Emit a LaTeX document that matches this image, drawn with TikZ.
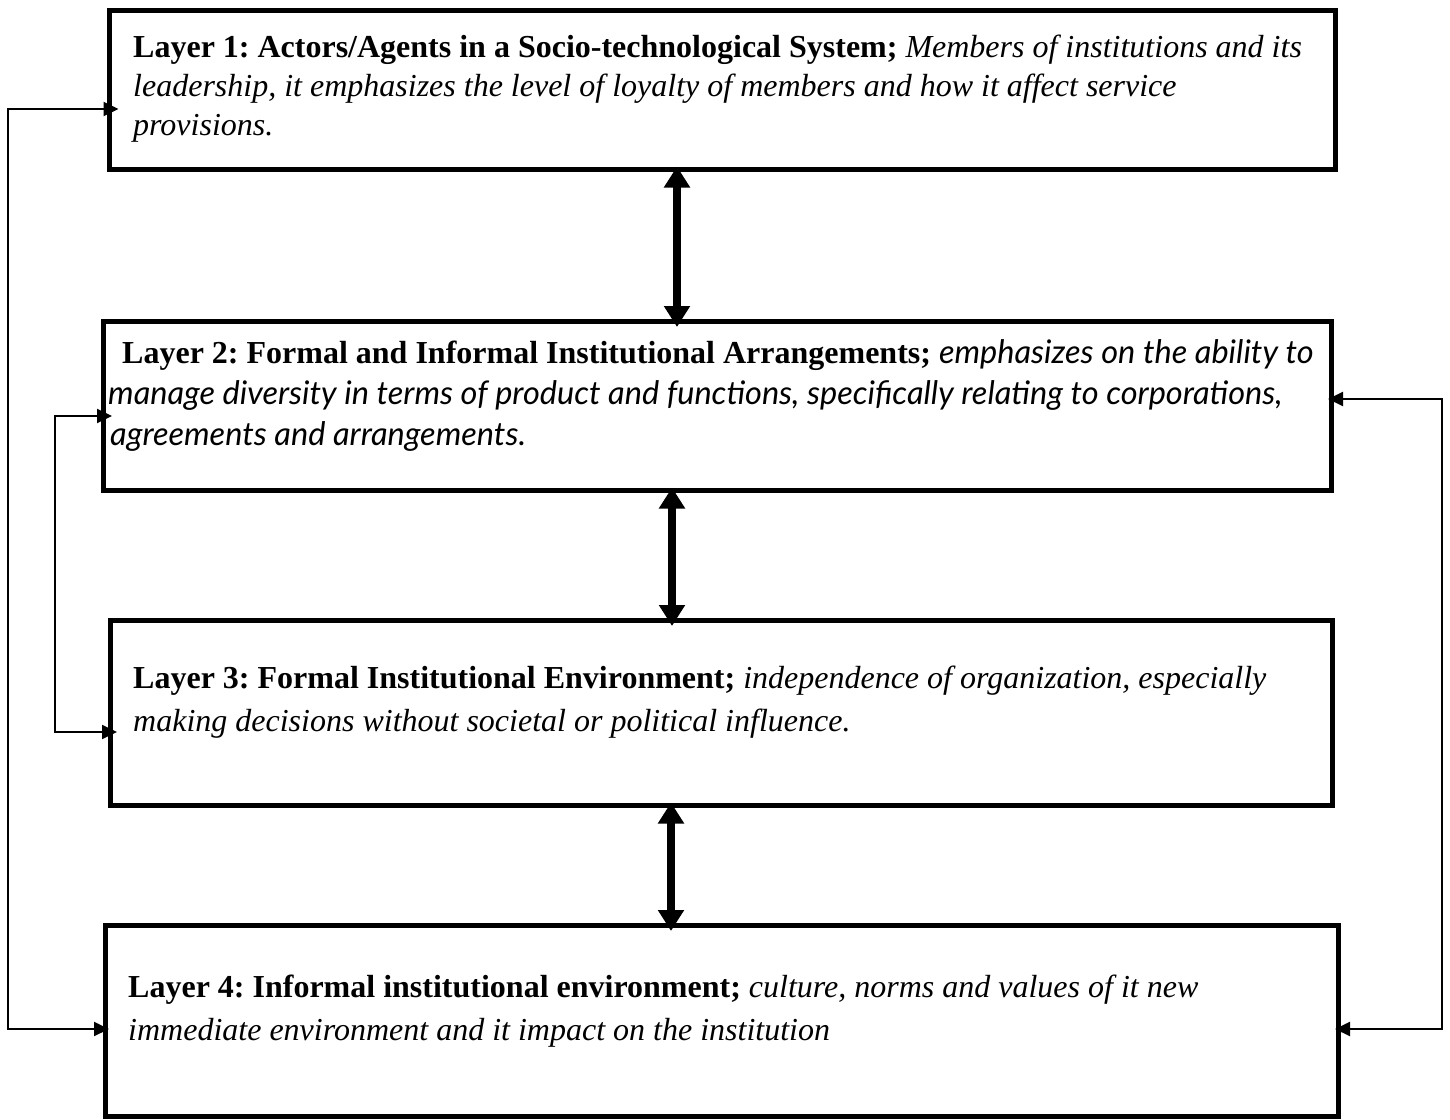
\documentclass[tikz,border=0pt]{standalone}
\usepackage{fontspec}
\setmainfont{Liberation Serif}
\newfontfamily\layertwofont{Lato}
\usetikzlibrary{arrows.meta}
\frenchspacing

\begin{document}
\begin{tikzpicture}[x=1pt,y=-1pt,
  layerbox/.style={draw, line width=5pt, inner sep=0pt, outer sep=0pt, anchor=north west},
  bigarrow/.style={line width=8pt, {Triangle[width=25pt,length=21pt]}-{Triangle[width=25pt,length=21pt]}},
  thinarrow/.style={line width=2pt, {Triangle[width=14pt,length=15pt]}-{Triangle[width=14pt,length=15pt]}},
  txt/.style={anchor=base west, inner sep=0pt, font=\fontsize{32}{40}\selectfont},
  sanstxt/.style={anchor=base west, inner sep=0pt, font=\layertwofont\fontsize{32.5}{40}\selectfont\itshape}
]
\useasboundingbox (0,0) rectangle (1450,1119);

% boxes
\node[layerbox, minimum width=1225.5pt, minimum height=159pt] (b1) at (109.5,10) {};
\node[layerbox, minimum width=1228pt, minimum height=169pt] (b2) at (103,321) {};
\node[layerbox, minimum width=1222pt, minimum height=185pt] (b3) at (110,620) {};
\node[layerbox, minimum width=1233pt, minimum height=191pt] (b4) at (105,925) {};

% texts
\node[txt] (t1a) at (133,57) {\textbf{Layer 1: Actors/Agents in a Socio-technological System;} \textit{Members of institutions and its}};
\node[txt] (t1b) at (133,96) {\textit{leadership, it emphasizes the level of loyalty of members and how it affect service}};
\node[txt] (t1c) at (133,135) {\textit{provisions.}};

\node[txt] (t2a) at (122,363) {\textbf{Layer 2: Formal and Informal Institutional Arrangements;} {\layertwofont\itshape\fontsize{32.5}{40}\selectfont emphasizes on the ability to}};
\node[sanstxt] (t2b) at (108,404) {manage diversity in terms of product and functions, specifically relating to corporations,};
\node[sanstxt] (t2c) at (110,445) {agreements and arrangements.};

\node[txt] (t3a) at (133,688) {\textbf{Layer 3: Formal Institutional Environment;} \textit{independence of organization, especially}};
\node[txt] (t3b) at (133,731) {\textit{making decisions without societal or political influence.}};

\node[txt] (t4a) at (128,997) {\textbf{Layer 4: Informal institutional environment;} \textit{culture, norms and values of it new}};
\node[txt] (t4b) at (128,1040) {\textit{immediate environment and it impact on the institution}};

% thick double arrows
\coordinate (x12) at (677,0);
\coordinate (x23) at (672,0);
\coordinate (x34) at (671,0);
\draw[bigarrow, shorten <=-2.5pt, shorten >=-6pt] (b1.south -| x12) -- (b2.north -| x12);
\draw[bigarrow, shorten <=-2.5pt, shorten >=-6pt] (b2.south -| x23) -- (b3.north -| x23);
\draw[bigarrow, shorten <=-2.5pt, shorten >=-6pt] (b3.south -| x34) -- (b4.north -| x34);

% thin feedback connectors
\coordinate (la) at (8,109);
\coordinate (lb) at (8,1029);
\draw[thinarrow, shorten <=-9pt, shorten >=-4pt] (b1.west |- la) -- (la) -- (lb) -- (b4.west |- lb);

\coordinate (ma) at (55,416);
\coordinate (mb) at (55,732);
\draw[thinarrow, shorten <=-9pt, shorten >=-7pt] (b2.west |- ma) -- (ma) -- (mb) -- (b3.west |- mb);

\coordinate (ra) at (1442,399);
\coordinate (rb) at (1442,1029);
\draw[thinarrow, shorten <=-3pt, shorten >=-3pt] (b2.east |- ra) -- (ra) -- (rb) -- (b4.east |- rb);
\end{tikzpicture}
\end{document}
